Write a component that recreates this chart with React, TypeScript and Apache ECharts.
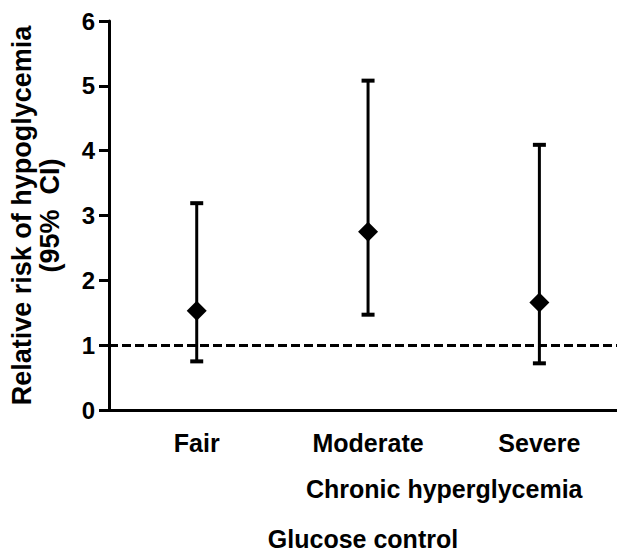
import React, { useEffect, useRef } from "react";
import * as echarts from "echarts";

const categories = ["Fair", "Moderate", "Severe"];
const categoryPositions = [1, 2, 3];
const estimates = [1.53, 2.75, 1.66];
const lowerCI = [0.75, 1.47, 0.72];
const upperCI = [3.19, 5.08, 4.09];
const referenceValue = 1;
const yTitle = "Relative risk of hypoglycemia\n(95%  CI)";
const xSubTitle = "Chronic hyperglycemia";
const xTitle = "Glucose control";

const FONT = "'Liberation Sans', Arial, sans-serif";

export default function App() {
  const ref = useRef<HTMLDivElement | null>(null);

  useEffect(() => {
    if (!ref.current) return;
    const chart = echarts.init(ref.current, null, { renderer: "svg" });

    const ciData = categoryPositions.map((x, i) => [x, lowerCI[i], upperCI[i]]);
    const pointData = categoryPositions.map((x, i) => [x, estimates[i]]);

    const option: any = {
      animation: false,
      backgroundColor: "#ffffff",
      grid: { left: 107, right: 0, top: 21, bottom: 144.5, containLabel: false },
      xAxis: {
        type: "value",
        min: 0.488,
        max: 3.453,
        name: xTitle,
        nameLocation: "middle",
        nameGap: 116,
        nameTextStyle: { fontSize: 25, fontWeight: "bold", color: "#000", fontFamily: FONT },
        axisLine: { show: true, onZero: false, lineStyle: { color: "#000", width: 3 } },
        axisTick: { show: false },
        splitLine: { show: false },
        axisLabel: {
          customValues: categoryPositions,
          formatter: (v: number) => categories[Math.round(v) - 1] ?? "",
          fontSize: 25,
          fontWeight: "bold",
          color: "#000",
          fontFamily: FONT,
          margin: 20,
        },
      },
      yAxis: {
        type: "value",
        min: 0,
        max: 6,
        interval: 1,
        name: yTitle,
        nameLocation: "middle",
        nameRotate: 90,
        nameGap: 45,
        nameTextStyle: {
          fontSize: 27,
          fontWeight: "bold",
          color: "#000",
          fontFamily: FONT,
          lineHeight: 28,
          align: "center",
        },
        axisLine: { show: true, lineStyle: { color: "#000", width: 3 } },
        axisTick: { show: true, length: 10, lineStyle: { color: "#000", width: 3 } },
        splitLine: { show: false },
        axisLabel: {
          fontSize: 24,
          fontWeight: "bold",
          color: "#000",
          fontFamily: FONT,
          margin: 14,
        },
      },
      graphic: [
        {
          type: "text",
          left: 446 - 140,
          top: 476,
          style: {
            text: xSubTitle,
            fontSize: 25,
            fontWeight: "bold",
            fill: "#000",
            fontFamily: FONT,
            width: 280,
            align: "center",
          },
        },
      ],
      series: [
        {
          type: "custom",
          data: ciData,
          encode: { x: 0, y: [1, 2] },
          z: 3,
          renderItem: (params: any, api: any) => {
            const x = api.value(0);
            const pLo = api.coord([x, api.value(1)]);
            const pHi = api.coord([x, api.value(2)]);
            const cap = 6.5;
            const stroke = { stroke: "#000", lineWidth: 3 };
            const capStroke = { stroke: "#000", lineWidth: 4 };
            return {
              type: "group",
              children: [
                { type: "line", shape: { x1: pLo[0], y1: pLo[1], x2: pHi[0], y2: pHi[1] }, style: stroke },
                { type: "line", shape: { x1: pHi[0] - cap, y1: pHi[1], x2: pHi[0] + cap, y2: pHi[1] }, style: capStroke },
                { type: "line", shape: { x1: pLo[0] - cap, y1: pLo[1], x2: pLo[0] + cap, y2: pLo[1] }, style: capStroke },
              ],
            };
          },
        },
        {
          type: "scatter",
          data: pointData,
          symbol: "diamond",
          symbolSize: [20, 20],
          itemStyle: { color: "#000", opacity: 1 },
          z: 4,
          markLine: {
            silent: true,
            symbol: ["none", "none"],
            label: { show: false },
            lineStyle: { color: "#000", width: 3, type: [9, 4], opacity: 1 },
            data: [{ yAxis: referenceValue }],
          },
        },
      ],
    };

    chart.setOption(option);
    return () => chart.dispose();
  }, []);

  return (
    <div
      ref={ref}
      style={{ position: "absolute", left: 0, top: 0, width: 617, height: 556, background: "#fff" }}
    />
  );
}
